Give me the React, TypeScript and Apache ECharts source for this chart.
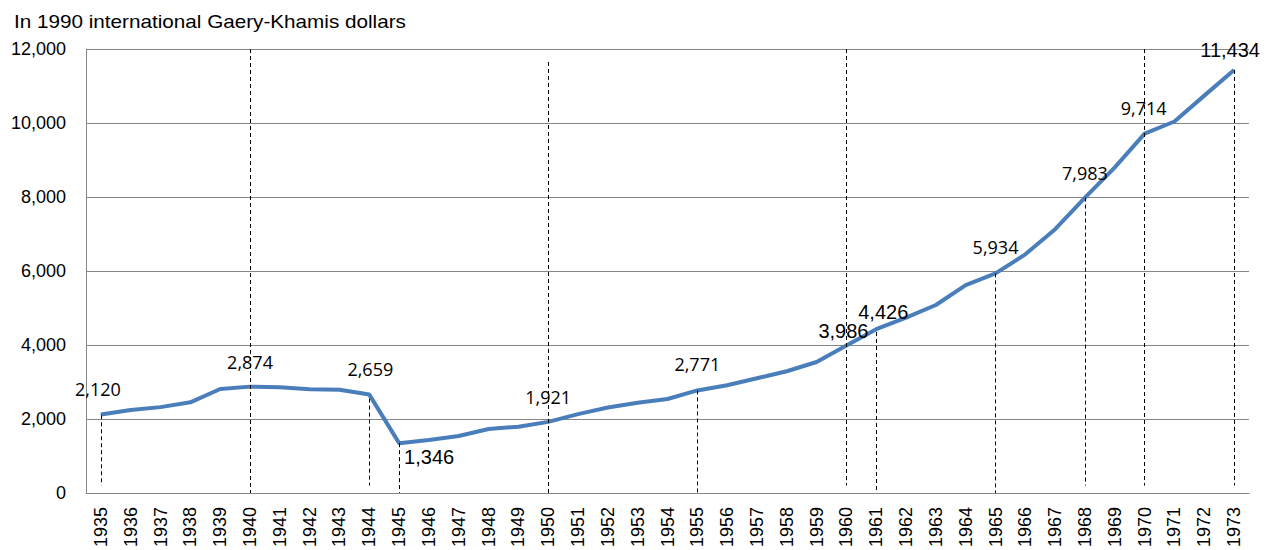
import React, { useEffect, useRef } from "react";
import * as echarts from "echarts";

const YEARS = [
  "1935", "1936", "1937", "1938", "1939", "1940", "1941", "1942", "1943", "1944",
  "1945", "1946", "1947", "1948", "1949", "1950", "1951", "1952", "1953", "1954",
  "1955", "1956", "1957", "1958", "1959", "1960", "1961", "1962", "1963", "1964",
  "1965", "1966", "1967", "1968", "1969", "1970", "1971", "1972", "1973",
];

const GDP = [
  2120, 2240, 2320, 2450, 2810, 2874, 2860, 2800, 2790, 2659,
  1346, 1430, 1540, 1730, 1790, 1921, 2130, 2310, 2440, 2540,
  2771, 2910, 3100, 3290, 3540, 3986, 4426, 4740, 5080, 5620,
  5934, 6450, 7130, 7983, 8800, 9714, 10040, 10740, 11434,
];

const Y_MIN = 0;
const Y_MAX = 12000;
const Y_STEP = 2000;

const TITLE = "In 1990 international Gaery-Khamis dollars";

// years whose value is labelled
const LABELLED_YEARS = ["1935", "1940", "1944", "1945", "1950", "1955", "1960", "1961", "1965", "1968", "1970", "1973"];

// dashed drop lines: year, upper value, lower value
const DROP_YEARS = ["1935", "1940", "1944", "1945", "1950", "1955", "1960", "1961", "1965", "1968", "1970", "1973"];
const DROP_TOP = [2100, 12000, 2550, 1346, 11650, 2771, 12000, 4350, 5934, 7983, 12000, 11434];
const DROP_BOTTOM = [200, 0, 200, 0, 0, 0, 200, 0, 0, 200, 200, 200];

// label styling (offsets / fonts), kept apart from data
const LABEL_STYLE: Record<string, { dx: number; dy: number; arial?: boolean }> = {
  "1935": { dx: -3, dy: -26 },
  "1940": { dx: 0, dy: -25 },
  "1944": { dx: 1, dy: -26 },
  "1945": { dx: 30, dy: 14, arial: true },
  "1950": { dx: 0, dy: -25 },
  "1955": { dx: 0, dy: -26 },
  "1960": { dx: -3, dy: -14, arial: true },
  "1961": { dx: 7, dy: -17, arial: true },
  "1965": { dx: 0, dy: -26 },
  "1968": { dx: 0, dy: -25 },
  "1970": { dx: -1, dy: -26 },
  "1973": { dx: -4, dy: -20, arial: true },
};

const fmt = (v: number) => v.toLocaleString("en-US");

export default function App() {
  const ref = useRef<HTMLDivElement>(null);

  useEffect(() => {
    document.body.style.margin = "0";
    if (!ref.current) return;
    const chart = echarts.init(ref.current, undefined, { renderer: "svg" });

    const seriesData = GDP.map((v, i) => {
      const year = YEARS[i];
      if (!LABELLED_YEARS.includes(year)) return { value: v };
      const st = LABEL_STYLE[year];
      return {
        value: v,
        label: {
          show: true,
          position: "inside",
          offset: [st.dx, st.dy],
          formatter: () => fmt(v),
          color: "#000",
          fontFamily: st.arial ? "Liberation Sans" : "Open Sans",
          fontSize: st.arial ? 20 : 18,
          textBorderWidth: 0,
        },
      };
    });

    const markLineData = DROP_YEARS.map((y, i) => [
      { coord: [y, DROP_TOP[i]] },
      { coord: [y, DROP_BOTTOM[i]] },
    ]);

    chart.setOption({
      animation: false,
      graphic: [
        {
          type: "text",
          left: 14,
          top: 12,
          scaleX: 1.15,
          silent: true,
          style: {
            text: TITLE,
            fontFamily: "Liberation Sans",
            fontSize: 18,
            fill: "#000",
          },
        },
      ],
      grid: { left: 86, right: 21, top: 49, bottom: 56, containLabel: false },
      xAxis: {
        type: "category",
        data: YEARS,
        boundaryGap: true,
        axisLine: { show: true, lineStyle: { color: "#868686", width: 1 } },
        axisTick: { show: false },
        axisLabel: {
          rotate: 90,
          interval: 0,
          margin: 14,
          color: "#000",
          fontFamily: "Liberation Sans",
          fontSize: 18,
        },
        splitLine: { show: false },
      },
      yAxis: {
        type: "value",
        min: Y_MIN,
        max: Y_MAX,
        interval: Y_STEP,
        axisLine: { show: true, lineStyle: { color: "#868686", width: 1 } },
        axisTick: { show: false },
        axisLabel: {
          margin: 20,
          color: "#000",
          fontFamily: "Liberation Sans",
          fontSize: 18,
          formatter: (v: number) => fmt(v),
        },
        splitLine: { show: true, lineStyle: { color: "#868686", width: 1 } },
      },
      series: [
        {
          type: "line",
          data: seriesData,
          symbol: "circle",
          symbolSize: 1,
          showSymbol: true,
          showAllSymbol: true,
          itemStyle: { color: "#4A7EBB" },
          lineStyle: { color: "#4A7EBB", width: 4 },
          emphasis: { disabled: true },
          silent: true,
          z: 3,
          markLine: {
            silent: true,
            symbol: ["none", "none"],
            label: { show: false },
            lineStyle: { color: "#000", width: 1, type: [4, 3] },
            emphasis: { disabled: true },
            data: markLineData,
          },
        },
      ],
    });

    return () => chart.dispose();
  }, []);

  return <div ref={ref} style={{ width: 1270, height: 550 }} />;
}
